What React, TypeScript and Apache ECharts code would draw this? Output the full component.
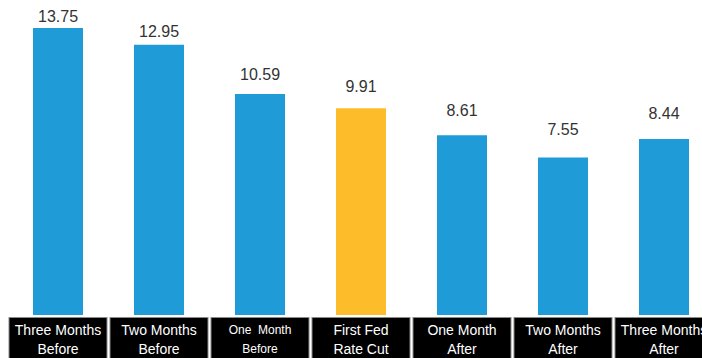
import React, { useEffect, useRef } from "react";
import * as echarts from "echarts";

const categories = [
  "Three Months\nBefore",
  "Two Months\nBefore",
  "One  Month\nBefore",
  "First Fed\nRate Cut",
  "One Month\nAfter",
  "Two Months\nAfter",
  "Three Months\nAfter",
];
const values = [13.75, 12.95, 10.59, 9.91, 8.61, 7.55, 8.44];
const highlightIndex = 3;

export default function App() {
  const ref = useRef<HTMLDivElement>(null);
  useEffect(() => {
    if (!ref.current) return;
    const chart = echarts.init(ref.current, null, { renderer: "svg" });
    const maxV = Math.max(...values);
    chart.setOption({
      animation: false,
      grid: { left: 7.5, right: 5.5, top: 2, bottom: 43, outerBoundsMode: "none", containLabel: false },
      xAxis: {
        type: "category",
        data: categories,
        axisLine: { show: false },
        axisTick: { show: false },
        axisLabel: {
          interval: 0,
          margin: 3,
          color: "#fff",
          fontFamily: "Liberation Sans, Arial, sans-serif",
          fontSize: 14,
          lineHeight: 19,
          backgroundColor: "#000",
          borderColor: "#8a8a8a",
          borderWidth: 1,
          width: 97,
          height: 44,
          padding: [2, 0, 0, 0],
          align: "center",
          verticalAlign: "top",
          formatter: (v: string, i: number) => {
            if (i === 2) {
              return v
                .split("\n")
                .map((s) => "{s|" + s + "}")
                .join("\n");
            }
            return v;
          },
          rich: {
            s: {
              fontSize: 12,
              lineHeight: 19,
              color: "#fff",
              fontFamily: "Liberation Sans, Arial, sans-serif",
            },
          },
        },
      },
      yAxis: {
        type: "value",
        min: 0,
        max: 15,
        show: false,
        splitLine: { show: false },
      },
      series: [
        {
          type: "bar",
          barWidth: 50,
          data: values.map((v, i) => ({
            value: v,
            itemStyle: { color: i === highlightIndex ? "#fdbd2a" : "#1f9bd7" },
            label: { distance: 3.5 + 2.6 * (maxV - v) },
          })),
          label: {
            show: true,
            position: "top",
            color: "#333",
            fontSize: 16,
            fontFamily: "Liberation Sans, Arial, sans-serif",
            formatter: (p: any) => p.value.toFixed(2),
          },
        },
      ],
    });
    return () => chart.dispose();
  }, []);
  return (
    <div
      style={{
        position: "fixed",
        left: 0,
        top: 0,
        width: 702,
        height: 358,
        overflow: "hidden",
        background: "#fff",
      }}
    >
      <div ref={ref} style={{ width: 720, height: 358 }} />
    </div>
  );
}
